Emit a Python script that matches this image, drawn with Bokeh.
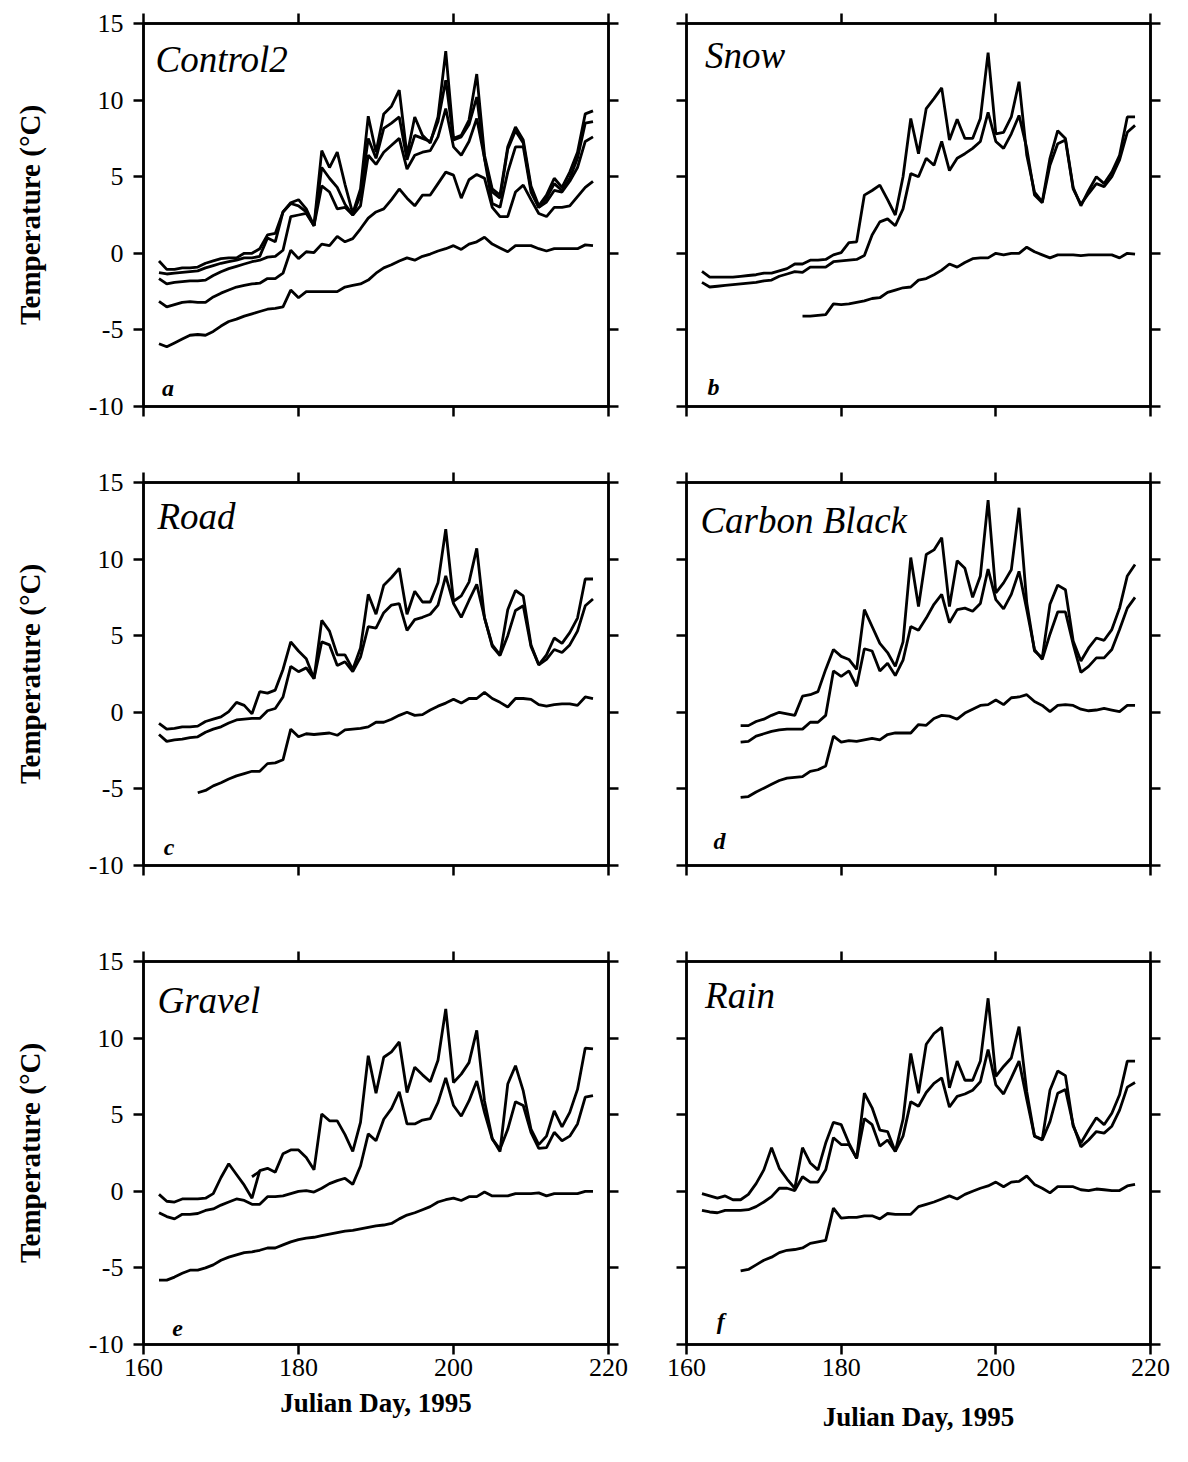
import numpy as np
from bokeh.plotting import figure
from bokeh.models import Range1d, LinearAxis, FixedTicker, Label
from bokeh.layouts import column, row
from bokeh.embed import file_html
from bokeh.resources import INLINE

N = None
days = list(range(162, 219))
x_ticks = [160, 180, 200, 220]
y_ticks = [-10, -5, 0, 5, 10, 15]
# plain hyphen for negative tick labels
y_tick_text = {-10: "-10", -5: "-5", 0: "0", 5: "5", 10: "10", 15: "15"}

# ---- Control2 (five depths) ----
control2_1 = [-0.5, -1.05, -1.05, -0.95, -0.95, -0.9, -0.65, -0.5, -0.35, -0.3,
              -0.3, 0.0, 0.0, 0.3, 1.2, 1.3, 2.7, 3.3, 3.5, 2.9,
              1.8, 6.7, 5.6, 6.6, 4.5, 2.6, 4.2, 8.95, 6.6, 9.1,
              9.6, 10.65, 6.4, 8.9, 7.7, 7.2, 8.9, 13.2, 7.5, 7.7,
              8.7, 11.7, 6.4, 4.2, 3.8, 6.95, 8.25, 7.4, 4.4, 3.1,
              3.8, 4.9, 4.3, 5.3, 6.6, 9.1, 9.3]
control2_2 = [-1.26, -1.35, -1.3, -1.25, -1.2, -1.15, -0.95, -0.8, -0.65, -0.55,
              -0.45, -0.3, -0.3, -0.2, 1.0, 0.75, 2.7, 3.25, 3.1, 2.7,
              1.8, 5.6, 4.9, 4.3, 3.2, 2.5, 3.8, 7.5, 6.2, 8.15,
              8.5, 8.9, 6.1, 7.7, 7.5, 7.3, 8.6, 11.3, 7.4, 7.6,
              8.4, 10.2, 6.2, 4.0, 3.6, 6.8, 8.0, 7.2, 4.2, 3.0,
              3.6, 4.55, 4.1, 4.9, 6.2, 8.5, 8.6]
control2_3 = [-1.65, -2.0, -1.9, -1.85, -1.8, -1.8, -1.75, -1.45, -1.2, -1.0,
              -0.85, -0.7, -0.55, -0.45, -0.25, -0.2, 0.2, 2.4, 2.5, 2.6,
              1.8, 4.4, 4.0, 2.9, 3.0, 2.5, 3.1, 6.4, 5.8, 6.6,
              7.05, 7.5, 5.5, 6.4, 6.6, 6.7, 7.6, 9.45, 6.95, 6.4,
              7.3, 8.8, 6.2, 3.25, 3.0, 5.3, 6.95, 6.95, 4.0, 3.0,
              3.35, 4.1, 4.0, 4.7, 5.6, 7.3, 7.6]
control2_4 = [-3.14, -3.5, -3.35, -3.2, -3.15, -3.2, -3.2, -2.85, -2.6, -2.4,
              -2.2, -2.1, -2.0, -1.95, -1.65, -1.65, -1.3, 0.2, -0.35, 0.1,
              0.05, 0.6, 0.5, 1.1, 0.75, 0.96, 1.6, 2.3, 2.7, 2.9,
              3.5, 4.2, 3.6, 3.1, 3.8, 3.8, 4.55, 5.3, 5.1, 3.6,
              4.8, 5.15, 4.9, 3.0, 2.4, 2.4, 4.0, 4.45, 3.5, 2.6,
              2.4, 3.0, 3.0, 3.1, 3.7, 4.3, 4.7]
control2_5 = [-5.9, -6.1, -5.85, -5.6, -5.35, -5.3, -5.35, -5.1, -4.75, -4.45,
              -4.3, -4.1, -3.95, -3.8, -3.65, -3.6, -3.5, -2.4, -2.9, -2.5,
              -2.5, -2.5, -2.5, -2.5, -2.2, -2.1, -2.0, -1.75, -1.3, -0.95,
              -0.75, -0.5, -0.3, -0.45, -0.2, -0.05, 0.15, 0.3, 0.5, 0.25,
              0.6, 0.75, 1.05, 0.6, 0.35, 0.1, 0.5, 0.5, 0.5, 0.3,
              0.15, 0.3, 0.3, 0.3, 0.3, 0.55, 0.5]

# ---- Snow ----
snow_1 = [-1.18, -1.55, -1.55, -1.55, -1.55, -1.5, -1.45, -1.4, -1.3, -1.3,
          -1.15, -1.0, -0.7, -0.7, -0.45, -0.45, -0.4, -0.1, 0.05, 0.7,
          0.75, 3.8, 4.1, 4.45, 3.5, 2.5, 5.0, 8.8, 6.5, 9.45,
          10.1, 10.8, 7.4, 8.75, 7.5, 7.5, 8.8, 13.1, 7.8, 7.9,
          8.9, 11.2, 6.4, 4.0, 3.35, 6.2, 8.0, 7.5, 4.3, 3.1,
          4.1, 5.0, 4.55, 5.3, 6.4, 8.9, 8.9]
snow_2 = [-1.9, -2.2, -2.15, -2.1, -2.05, -2.0, -1.95, -1.9, -1.8, -1.75,
          -1.5, -1.35, -1.2, -1.25, -0.9, -0.9, -0.9, -0.55, -0.5, -0.45,
          -0.4, -0.15, 1.2, 2.05, 2.25, 1.8, 2.9, 5.2, 5.0, 6.2,
          5.75, 7.3, 5.4, 6.2, 6.5, 6.85, 7.3, 9.2, 7.3, 6.85,
          7.8, 9.0, 6.85, 3.8, 3.3, 5.75, 7.15, 7.4, 4.2, 3.2,
          3.9, 4.55, 4.35, 5.0, 6.1, 7.9, 8.35]
snow_3 = [N, N, N, N, N, N, N, N, N, N,
          N, N, N, -4.1, -4.1, -4.05, -4.0, -3.3, -3.35, -3.3,
          -3.2, -3.1, -2.95, -2.9, -2.55, -2.4, -2.25, -2.2, -1.75, -1.65,
          -1.4, -1.1, -0.7, -0.9, -0.6, -0.35, -0.3, -0.3, 0.0, -0.1,
          0.0, 0.0, 0.4, 0.1, -0.1, -0.3, -0.1, -0.1, -0.1, -0.15,
          -0.1, -0.1, -0.1, -0.1, -0.3, 0.0, -0.05]

# ---- Road ----
road_1 = [-0.72, -1.1, -1.05, -0.95, -0.95, -0.9, -0.6, -0.45, -0.3, 0.05,
          0.65, 0.45, -0.1, 1.35, 1.25, 1.45, 2.8, 4.6, 4.0, 3.5,
          2.2, 6.0, 5.3, 3.75, 3.75, 2.8, 4.2, 7.7, 6.4, 8.3,
          8.8, 9.4, 6.4, 7.9, 7.2, 7.2, 8.45, 11.95, 7.25, 7.6,
          8.5, 10.7, 6.15, 4.4, 3.75, 6.7, 7.95, 7.6, 4.4, 3.1,
          3.75, 4.85, 4.5, 5.2, 6.15, 8.7, 8.7]
road_2 = [-1.45, -1.9, -1.8, -1.75, -1.65, -1.6, -1.3, -1.1, -0.95, -0.7,
          -0.5, -0.45, -0.4, -0.4, 0.1, 0.25, 1.0, 3.0, 2.65, 2.9,
          2.2, 4.6, 4.4, 3.05, 3.3, 2.65, 3.6, 5.6, 5.5, 6.5,
          7.0, 7.1, 5.35, 6.05, 6.2, 6.4, 7.0, 8.9, 7.1, 6.2,
          7.3, 8.35, 6.2, 4.3, 3.7, 5.0, 6.65, 6.95, 4.3, 3.1,
          3.45, 4.1, 3.9, 4.4, 5.3, 6.95, 7.4]
road_3 = [N, N, N, N, N, -5.25, -5.1, -4.8, -4.6, -4.35,
          -4.15, -4.0, -3.85, -3.85, -3.35, -3.3, -3.1, -1.1, -1.6, -1.4,
          -1.45, -1.4, -1.35, -1.5, -1.15, -1.1, -1.05, -0.95, -0.65, -0.65,
          -0.45, -0.2, 0.0, -0.2, -0.15, 0.15, 0.4, 0.6, 0.85, 0.6,
          0.9, 0.9, 1.3, 0.9, 0.65, 0.35, 0.9, 0.9, 0.85, 0.5,
          0.4, 0.5, 0.55, 0.55, 0.45, 1.0, 0.9]

# ---- Carbon Black ----
carbon_1 = [N, N, N, N, N, -0.87, -0.87, -0.6, -0.45, -0.2,
            0.0, -0.1, -0.2, 1.05, 1.15, 1.35, 2.8, 4.1, 3.65, 3.45,
            2.8, 6.7, 5.6, 4.5, 3.9, 3.0, 4.6, 10.1, 6.9, 10.3,
            10.6, 11.4, 6.9, 9.9, 9.4, 7.5, 8.9, 13.85, 7.8, 8.45,
            9.3, 13.35, 7.15, 4.0, 3.55, 7.05, 8.3, 8.0, 4.65, 3.35,
            4.2, 4.85, 4.7, 5.4, 6.8, 8.9, 9.65]
carbon_2 = [N, N, N, N, N, -1.95, -1.9, -1.55, -1.4, -1.25,
            -1.15, -1.1, -1.1, -1.1, -0.65, -0.65, -0.2, 2.7, 2.35, 2.7,
            1.7, 4.15, 4.0, 2.7, 3.2, 2.4, 3.4, 5.6, 5.35, 6.15,
            7.05, 7.7, 5.85, 6.7, 6.8, 6.6, 7.1, 9.35, 7.35, 6.75,
            7.7, 9.2, 6.7, 4.1, 3.45, 5.1, 6.55, 6.55, 4.45, 2.6,
            3.0, 3.55, 3.55, 4.1, 5.4, 6.8, 7.5]
carbon_3 = [N, N, N, N, N, -5.55, -5.5, -5.2, -4.95, -4.7,
            -4.45, -4.3, -4.25, -4.2, -3.85, -3.75, -3.5, -1.55, -1.95, -1.85,
            -1.9, -1.8, -1.7, -1.8, -1.45, -1.35, -1.35, -1.35, -0.8, -0.85,
            -0.4, -0.2, -0.25, -0.45, -0.05, 0.2, 0.45, 0.5, 0.8, 0.5,
            0.95, 1.0, 1.15, 0.7, 0.45, 0.05, 0.45, 0.5, 0.45, 0.2,
            0.1, 0.15, 0.25, 0.15, 0.05, 0.45, 0.45]

# ---- Gravel ----
gravel_1 = [-0.2, -0.65, -0.7, -0.5, -0.5, -0.5, -0.45, -0.15, 0.9, 1.8,
            1.1, 0.4, -0.45, 1.35, 1.5, 1.25, 2.45, 2.7, 2.7, 2.2,
            1.4, 5.05, 4.6, 4.6, 3.7, 2.6, 4.5, 8.85, 6.4, 8.75,
            9.1, 9.75, 6.45, 8.1, 7.6, 7.15, 8.55, 11.9, 7.1, 7.65,
            8.4, 10.5, 5.9, 3.45, 2.6, 7.0, 8.2, 6.55, 4.05, 3.05,
            3.6, 5.25, 4.2, 5.15, 6.65, 9.35, 9.3]
gravel_2 = [-1.4, -1.65, -1.8, -1.5, -1.5, -1.45, -1.25, -1.15, -0.9, -0.7,
            -0.5, -0.6, -0.85, -0.85, -0.35, -0.35, -0.3, -0.15, 0.0, 0.05,
            -0.05, 0.2, 0.5, 0.7, 0.85, 0.45, 1.65, 3.75, 3.3, 4.7,
            5.4, 6.5, 4.4, 4.4, 4.65, 4.75, 5.8, 7.4, 5.6, 4.9,
            5.9, 7.2, 5.15, 3.4, 2.75, 4.05, 5.85, 5.6, 3.85, 2.8,
            2.85, 3.85, 3.3, 3.6, 4.4, 6.15, 6.25]
gravel_3 = [-5.8, -5.8, -5.6, -5.35, -5.15, -5.15, -5.0, -4.8, -4.5, -4.3,
            -4.15, -4.0, -3.95, -3.85, -3.7, -3.7, -3.5, -3.3, -3.15, -3.05,
            -3.0, -2.9, -2.8, -2.7, -2.6, -2.55, -2.45, -2.35, -2.25, -2.2,
            -2.1, -1.8, -1.55, -1.4, -1.2, -1.0, -0.7, -0.55, -0.45, -0.6,
            -0.35, -0.35, -0.05, -0.3, -0.3, -0.3, -0.15, -0.15, -0.15, -0.1,
            -0.3, -0.15, -0.15, -0.15, -0.15, 0.0, 0.0]
gravel_piece_days = [174, 175]
gravel_piece = [0.95, 1.3]

# ---- Rain ----
rain_1 = [-0.15, -0.3, -0.45, -0.3, -0.55, -0.55, -0.2, 0.5, 1.4, 2.85,
          1.5, 0.8, 0.2, 2.85, 1.85, 1.4, 3.15, 4.5, 4.35, 3.15,
          2.15, 6.4, 5.45, 4.0, 3.9, 2.6, 4.7, 9.0, 6.4, 9.6,
          10.3, 10.7, 6.75, 8.5, 7.25, 7.25, 8.5, 12.6, 7.5, 8.15,
          8.7, 10.75, 6.5, 3.6, 3.4, 6.6, 7.85, 7.55, 4.25, 3.15,
          4.0, 4.8, 4.35, 5.1, 6.3, 8.5, 8.5]
rain_2 = [-1.25, -1.35, -1.4, -1.25, -1.25, -1.25, -1.2, -1.0, -0.7, -0.35,
          0.2, 0.2, 0.05, 0.95, 0.6, 0.6, 1.4, 3.5, 3.05, 3.05,
          2.15, 4.75, 4.35, 2.95, 3.35, 2.6, 3.6, 5.85, 5.55, 6.45,
          7.05, 7.4, 5.5, 6.2, 6.35, 6.6, 7.15, 9.25, 6.95, 6.35,
          7.4, 8.5, 6.0, 3.6, 3.35, 4.55, 6.4, 6.65, 4.35, 2.9,
          3.35, 3.9, 3.8, 4.25, 5.3, 6.8, 7.1]
rain_3 = [N, N, N, N, N, -5.2, -5.1, -4.8, -4.5, -4.3,
          -4.0, -3.85, -3.8, -3.7, -3.4, -3.3, -3.2, -1.1, -1.75, -1.7,
          -1.7, -1.6, -1.6, -1.8, -1.45, -1.5, -1.5, -1.5, -1.0, -0.85,
          -0.7, -0.5, -0.3, -0.5, -0.2, 0.0, 0.2, 0.35, 0.6, 0.3,
          0.6, 0.65, 1.0, 0.45, 0.2, -0.1, 0.3, 0.3, 0.3, 0.1,
          0.05, 0.15, 0.1, 0.05, 0.05, 0.35, 0.45]

SERIF = "Liberation Serif"
FRAME_H = 383
COLS = [dict(left=143, fw=465, right=30), dict(left=48, fw=464, right=38)]
ROWS = [dict(top=23, bottom=38), dict(top=38, bottom=38), dict(top=58, bottom=118)]


def style_axis(ax, ticks, labels, texts=None):
    ax.ticker = FixedTicker(ticks=ticks)
    ax.major_tick_in = 0
    ax.major_tick_out = 10
    ax.minor_tick_in = 0
    ax.minor_tick_out = 0
    ax.axis_line_width = 2.5
    ax.axis_line_color = "black"
    ax.major_tick_line_width = 2.5
    ax.major_tick_line_color = "black"
    ax.major_label_text_font = SERIF
    ax.major_label_text_font_size = "26px"
    ax.major_label_text_color = "black"
    ax.axis_label_text_font = SERIF
    ax.axis_label_text_font_style = "bold"
    ax.axis_label_text_font_size = "27px"
    ax.axis_label_text_color = "black"
    if not labels:
        ax.major_label_overrides = {t: "" for t in ticks}
    elif texts is not None:
        ax.major_label_overrides = dict(texts)


def panel(col, rw, series, name, name_xy, letter, letter_xy,
          ylabels, xlabels, xtitle_standoff=8, extra=None):
    c, r = COLS[col], ROWS[rw]
    p = figure(width=c["left"] + c["fw"] + c["right"],
               height=r["top"] + FRAME_H + r["bottom"],
               min_border_left=c["left"], min_border_right=c["right"],
               min_border_top=r["top"], min_border_bottom=r["bottom"],
               x_range=Range1d(160, 220), y_range=Range1d(-10, 15),
               output_backend="svg", toolbar_location=None)
    p.xgrid.visible = False
    p.ygrid.visible = False
    p.outline_line_color = "black"
    p.outline_line_width = 2.5
    p.background_fill_color = "white"
    p.border_fill_color = "white"

    p.add_layout(LinearAxis(), "above")
    p.add_layout(LinearAxis(), "right")
    style_axis(p.below[0], x_ticks, xlabels)
    style_axis(p.above[0], x_ticks, False)
    style_axis(p.left[0], y_ticks, ylabels, y_tick_text)
    style_axis(p.right[0], y_ticks, False)
    p.left[0].major_label_standoff = 10
    p.below[0].major_label_standoff = 4

    if ylabels:
        p.left[0].axis_label = "Temperature (°C)"
        p.left[0].axis_label_text_font_size = "29px"
        p.left[0].axis_label_standoff = 40
    if xlabels:
        p.below[0].axis_label = "Julian Day, 1995"
        p.below[0].axis_label_standoff = xtitle_standoff

    for s in series:
        vals = np.array([np.nan if v is None else v for v in s], dtype=float)
        p.line(days, vals, line_color="black", line_width=2.8)
    if extra is not None:
        p.line(extra[0], extra[1], line_color="black", line_width=2.8)

    p.add_layout(Label(x=name_xy[0], y=name_xy[1], text=name,
                       text_font=SERIF, text_font_style="italic",
                       text_font_size="37px", text_color="black",
                       text_baseline="alphabetic", text_align="left"))
    p.add_layout(Label(x=letter_xy[0], y=letter_xy[1], text=letter,
                       text_font=SERIF, text_font_style="bold italic",
                       text_font_size="24px", text_color="black",
                       text_baseline="alphabetic", text_align="left"))
    return p


pa = panel(0, 0, [control2_1, control2_2, control2_3, control2_4, control2_5],
           "Control2", (161.55, 12.65), "a", (162.4, -8.8), True, False)
pb = panel(1, 0, [snow_1, snow_2, snow_3],
           "Snow", (162.4, 12.9), "b", (162.7, -8.75), False, False)
pc = panel(0, 1, [road_1, road_2, road_3],
           "Road", (161.8, 12.75), "c", (162.6, -8.8), True, False)
pd = panel(1, 1, [carbon_1, carbon_2, carbon_3],
           "Carbon Black", (161.8, 12.55), "d", (163.5, -8.4), False, False)
pe = panel(0, 2, [gravel_1, gravel_2, gravel_3],
           "Gravel", (161.8, 12.45), "e", (163.7, -8.95), True, True,
           xtitle_standoff=9, extra=(gravel_piece_days, gravel_piece))
pf = panel(1, 2, [rain_1, rain_2, rain_3],
           "Rain", (162.4, 12.75), "f", (163.9, -8.45), False, True,
           xtitle_standoff=23)

layout = column(row(pa, pb, spacing=0), row(pc, pd, spacing=0),
                row(pe, pf, spacing=0), spacing=0)

with open("out.html", "w") as f:
    f.write(file_html(layout, INLINE))
